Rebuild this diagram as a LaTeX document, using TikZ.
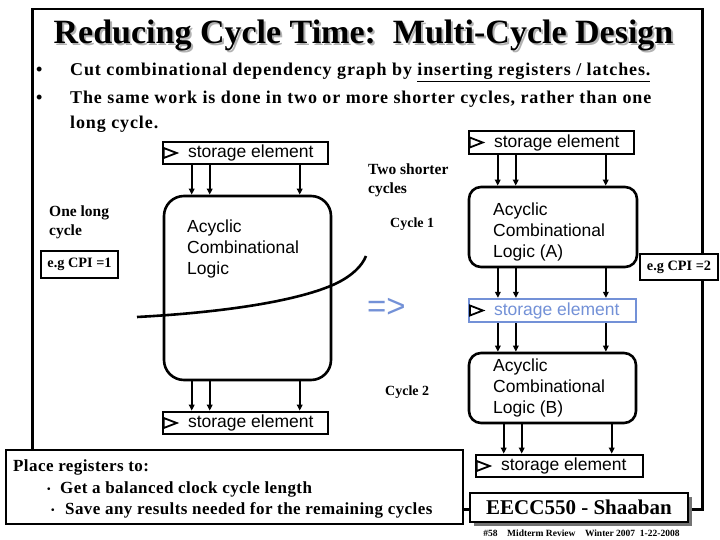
\documentclass[tikz,border=0pt]{standalone}
\usepackage{fontspec}
\setmainfont{Liberation Serif}
\setsansfont{Liberation Sans}
\newfontfamily\wideserif[LetterSpace=5]{Liberation Serif}
\newfontfamily\midserif[LetterSpace=2.5]{Liberation Serif}
\usetikzlibrary{arrows.meta,calc}
\definecolor{blu}{RGB}{115,145,215}
\begin{document}
\begin{tikzpicture}[x=1pt,y=-1pt,
  frm/.style={draw, line width=2.5pt, inner sep=0pt},
  stor/.style={draw, line width=2.6pt, minimum width=165pt, minimum height=22pt, inner sep=0pt, fill=white, font=\sffamily\fontsize{17.5}{21}\selectfont},
  logic/.style={draw, line width=2.6pt, inner sep=0pt},
  ltxt/.style={anchor=north west, inner sep=0pt, align=left, font=\sffamily\fontsize{17.5}{21}\selectfont},
  arr/.style={-{Triangle[length=6pt,width=5.5pt]}, line width=1.6pt},
  clk/.style={line width=1.8pt, line join=miter},
  ser/.style={inner sep=0pt, anchor=base west, font=\bfseries\fontsize{15.5}{19}\selectfont},
  bul/.style={inner sep=0pt, anchor=base west, font=\wideserif\bfseries\fontsize{18}{22}\selectfont},
  pbul/.style={inner sep=0pt, anchor=base west, font=\midserif\bfseries\fontsize{17}{21}\selectfont},
  sbul/.style={inner sep=0pt, anchor=base west, font=\bfseries\fontsize{10}{12}\selectfont},
  cpi/.style={draw, line width=1.5pt, fill=white, minimum width=77pt, minimum height=27pt, inner sep=0pt, font=\bfseries\fontsize{14.3}{18}\selectfont},
  ttl/.style={anchor=base, inner sep=0pt, font=\bfseries\fontsize{34}{40}\selectfont},
]
\useasboundingbox (0,0) rectangle (720,540);
\fill[white] (0,0) rectangle (720,540);
\node[frm, minimum width=670pt, minimum height=500pt, anchor=north west] (frame) at (31,8) {};

% title
\node[ttl, text=black!30] (titsh) at (365.5,46) {Reducing Cycle Time:\ \ Multi-Cycle Design};
\node[ttl] (title) at (363.5,44) {Reducing Cycle Time:\ \ Multi-Cycle Design};

% bullets
\node[bul] (b1) at (36,76) {•};
\node[bul] (t1) at (70,76) {Cut combinational dependency graph by \underline{inserting registers / latches.}};
\node[bul] (b2) at (36,104) {•};
\node[bul] (t2) at (70,104) {The same work is done in two or more shorter cycles, rather than one};
\node[bul] (t3) at (70,129) {long cycle.};

% left column
\node[stor] (s1) at (245.5,153) {\makebox[115pt][l]{storage element}};
\draw[clk] ($(s1.west)+(2,-5)$) -- ($(s1.west)+(15,0)$) -- ($(s1.west)+(2,5)$) -- cycle;
\node[logic, rounded corners=20pt, minimum width=167pt, minimum height=184pt] (l1) at (247.5,288) {};
\node[ltxt] (l1t) at (187,219.5) {Acyclic\\Combinational\\Logic};
\node[stor] (s2) at (245.5,423) {\makebox[115pt][l]{storage element}};
\draw[clk] ($(s2.west)+(2,-5)$) -- ($(s2.west)+(15,0)$) -- ($(s2.west)+(2,5)$) -- cycle;
\foreach \dx [count=\i] in {30,48,138} {
  \coordinate (u\i) at ($(s1.south west)+(\dx,0)$);
  \draw[arr] (u\i) -- (u\i |- l1.north);
  \coordinate (v\i) at ($(s2.north west)+(\dx,0)$);
  \draw[arr] (v\i |- l1.south) -- (v\i);
}
\draw[line width=2.6pt] (137,317) .. controls (230,312) and (300,300) .. (335,284) .. controls (352,276) and (362,266) .. (366,256);

\node[ser] (ol1) at (49,217) {One long};
\node[ser] (ol2) at (49,236) {cycle};
\node[cpi] (cpi1) at (79.5,264.5) {e.g CPI =1};

% middle
\node[ser] (ts1) at (368,175) {Two shorter};
\node[ser] (ts2) at (368,194) {cycles};
\node[ser, font=\bfseries\fontsize{14}{17}\selectfont] (c1) at (390,227) {Cycle 1};
\node[ser, text=blu, font=\sffamily\fontsize{33}{35}\selectfont] (impl) at (367,317) {=>};
\node[ser, font=\bfseries\fontsize{14}{17}\selectfont] (c2) at (385,395) {Cycle 2};

% right column
\node[stor, minimum height=23pt] (r1) at (551.5,142.5) {\makebox[115pt][l]{storage element}};
\draw[clk] ($(r1.west)+(2,-5)$) -- ($(r1.west)+(15,0)$) -- ($(r1.west)+(2,5)$) -- cycle;
\node[logic, rounded corners=12pt, minimum width=168pt, minimum height=80pt] (la) at (553,227) {};
\node[ltxt] (lat) at (493,202.5) {Acyclic\\Combinational\\Logic (A)};
\node[stor, draw=blu, text=blu, line width=2.2pt, minimum width=167pt, minimum height=23pt] (r2) at (552.5,310.5) {\makebox[117pt][l]{storage element}};
\draw[clk] ($(r2.west)+(2,-5)$) -- ($(r2.west)+(15,0)$) -- ($(r2.west)+(2,5)$) -- cycle;
\node[logic, rounded corners=12pt, minimum width=167pt, minimum height=70pt] (lb) at (552.5,388) {};
\node[ltxt] (lbt) at (493,358.5) {Acyclic\\Combinational\\Logic (B)};
\node[stor, minimum width=167pt] (r3) at (559.5,466) {\makebox[117pt][l]{storage element}};
\draw[clk] ($(r3.west)+(2,-5)$) -- ($(r3.west)+(15,0)$) -- ($(r3.west)+(2,5)$) -- cycle;
\foreach \dx [count=\i] in {30,48,138} {
  \coordinate (p\i) at ($(r1.south west)+(\dx,0)$);
  \draw[arr] (p\i) -- (p\i |- la.north);
  \coordinate (q\i) at ($(r2.north west)+(\dx,0)$);
  \draw[arr] (q\i |- la.south) -- (q\i);
  \coordinate (w\i) at ($(r2.south west)+(\dx,0)$);
  \draw[arr] (w\i) -- (w\i |- lb.north);
}
\foreach \dx [count=\i] in {29,47,137} {
  \coordinate (z\i) at ($(r3.north west)+(\dx,0)$);
  \draw[arr] (z\i |- lb.south) -- (z\i);
}
\node[cpi, minimum width=78pt, minimum height=26pt] (cpi2) at (679,267) {e.g CPI =2};

% bottom box
\node[draw, line width=2pt, fill=white, minimum width=457pt, minimum height=74pt, anchor=north west, inner sep=0pt] (place) at (5,449) {};
\node[pbul] (pl1) at (13,471) {Place registers to:};
\node[sbul] (pb2) at (47,492) {•};
\node[pbul] (pl2) at (60,493) {Get a balanced clock cycle length};
\node[sbul] (pb3) at (51,513) {•};
\node[pbul] (pl3) at (65,514) {Save any results needed for the remaining cycles};

% footer
\fill[black!55] (474,497) rectangle (692,526);
\node[draw, line width=1.5pt, fill=white, minimum width=218pt, minimum height=29pt, inner sep=0pt, font=\bfseries\fontsize{21}{24}\selectfont] (eecc) at (579,507.5) {EECC550 - Shaaban};
\node[anchor=base, inner sep=0pt, font=\bfseries\fontsize{9.5}{11}\selectfont] (foot) at (581.5,536) {\#58\quad Midterm Review\quad Winter 2007\enspace 1-22-2008};
\end{tikzpicture}
\end{document}
